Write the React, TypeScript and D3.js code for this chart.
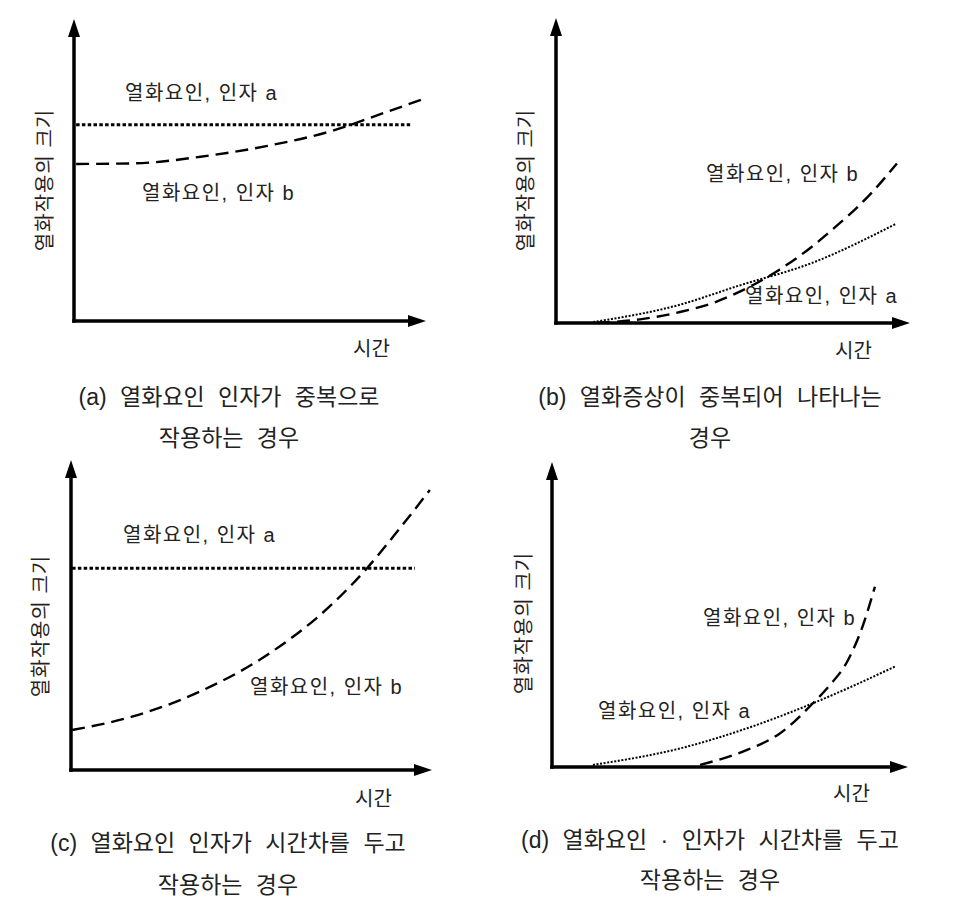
import React from "react";
import * as d3 from "d3";

// ---------- data (time, magnitude on 0..100 scales) ----------
const panelKeys = ["a", "b", "c", "d"];

const aTimeA = [0.6, 95.5];
const aValA = [65, 65];
const aTimeB = [0.6, 17, 36, 55, 74, 88, 100];
const aValB = [52, 52.2, 54.4, 58, 63.2, 68.9, 73.8];

const bTimeA = [10.5, 35, 51, 73, 96];
const bValA = [0.3, 6, 12, 20, 32.5];
const bTimeB = [11.6, 23.7, 35, 44.4, 51, 57, 63, 68, 72.6, 77, 82.2, 89, 96.3];
const bValB = [0, 1.2, 3.6, 6.6, 9.8, 13.3, 17.4, 21.3, 25.3, 29.6, 34.8, 42.5, 52.3];

const cTimeA = [0.3, 95.3];
const cValA = [65.1, 65.1];
const cTimeB = [0.3, 16.9, 35.7, 54.3, 72.6, 82, 91.1, 99.4];
const cValB = [12.9, 17.2, 25.3, 37.1, 53.8, 65.1, 78, 90.3];

const dTimeA = [11.5, 36, 54.8, 73.3, 96.3];
const dValA = [0.7, 6.1, 12.7, 20.9, 32.9];
const dTimeB = [41.6, 54.8, 64, 73.3, 78.1, 82.9, 87.4, 90.7];
const dValB = [0.7, 5.6, 11, 20.9, 26.9, 34.5, 46.6, 59.1];

const seriesLabels = ["열화요인, 인자 a", "열화요인, 인자 b"];
const yAxisLabel = "열화작용의 크기";
const xAxisLabel = "시간";
const captionLine1 = [
  "(a) 열화요인 인자가 중복으로",
  "(b) 열화증상이 중복되어 나타나는",
  "(c) 열화요인 인자가 시간차를 두고",
  "(d) 열화요인 · 인자가 시간차를 두고",
];
const captionLine2 = ["작용하는 경우", "경우", "작용하는 경우", "작용하는 경우"];

// ---------- layout ----------
const layout: Record<string, any> = {
  a: {
    x0: 74, x1: 426, y0: 321, y1: 19,
    la: [125, 100], lb: [142, 200], xl: [353, 356], yl: [45, 180],
    cap: [229, 405, 446], dotThick: true,
  },
  b: {
    x0: 556, x1: 910, y0: 323, y1: 18,
    la: [745, 303], lb: [706, 181], xl: [835, 358], yl: [526, 180],
    cap: [710, 405, 446], dotThick: false,
  },
  c: {
    x0: 71, x1: 432, y0: 770, y1: 460,
    la: [123, 542], lb: [250, 694], xl: [355, 806], yl: [41, 626],
    cap: [228, 851, 893], dotThick: true,
  },
  d: {
    x0: 552, x1: 908, y0: 767, y1: 462,
    la: [598, 718], lb: [703, 625], xl: [833, 801], yl: [524, 623],
    cap: [710, 848, 888], dotThick: false,
  },
};

const seriesData: Record<string, number[][]> = {
  a: [aTimeA, aValA, aTimeB, aValB],
  b: [bTimeA, bValA, bTimeB, bValB],
  c: [cTimeA, cValA, cTimeB, cValB],
  d: [dTimeA, dValA, dTimeB, dValB],
};

const FONT = "'Liberation Sans', 'Noto Sans CJK KR', sans-serif";
const TEXT = "#222";

function Panel({ k, i }: { k: string; i: number }) {
  const L = layout[k];
  const x = d3.scaleLinear().domain([0, 100]).range([L.x0, L.x1]);
  const y = d3.scaleLinear().domain([0, 100]).range([L.y0, L.y1]);
  const [tA, vA, tB, vB] = seriesData[k];
  const line = d3
    .line<[number, number]>()
    .x((d) => x(d[0]))
    .y((d) => y(d[1]))
    .curve(d3.curveMonotoneX);
  const ptsA = tA.map((t, j) => [t, vA[j]] as [number, number]);
  const ptsB = tB.map((t, j) => [t, vB[j]] as [number, number]);
  const aw = 6;
  const al = 18;
  const sw = 3.5;
  return (
    <g>
      {/* series a : dotted */}
      <path
        d={line(ptsA) || ""}
        fill="none"
        stroke="#000"
        strokeWidth={L.dotThick ? 3 : 2}
        strokeDasharray={L.dotThick ? "3.5 2.3" : "2 1.6"}
      />
      {/* series b : dashed */}
      <path
        d={line(ptsB) || ""}
        fill="none"
        stroke="#000"
        strokeWidth={2.4}
        strokeDasharray="13 7"
      />
      {/* axes */}
      <line x1={L.x0} y1={L.y0 + sw / 2} x2={L.x0} y2={L.y1 + al - 1} stroke="#000" strokeWidth={sw} />
      <line x1={L.x0 - sw / 2} y1={L.y0} x2={L.x1 - al + 1} y2={L.y0} stroke="#000" strokeWidth={sw} />
      <path d={`M${L.x0},${L.y1} L${L.x0 - aw},${L.y1 + al} L${L.x0 + aw},${L.y1 + al} Z`} fill="#000" />
      <path d={`M${L.x1},${L.y0} L${L.x1 - al},${L.y0 - aw} L${L.x1 - al},${L.y0 + aw} Z`} fill="#000" />
      {/* labels */}
      <g fontFamily={FONT} fill={TEXT} fontSize={20}>
        <text x={L.la[0]} y={L.la[1]} letterSpacing={1.5}>{seriesLabels[0]}</text>
        <text x={L.lb[0]} y={L.lb[1]} letterSpacing={1.5}>{seriesLabels[1]}</text>
        <text x={L.xl[0]} y={L.xl[1]}>{xAxisLabel}</text>
        <text
          transform={`translate(${L.yl[0]},${L.yl[1]}) rotate(-90)`}
          textAnchor="middle"
          dominantBaseline="central"
          fill="#2b1e1e"
          letterSpacing={1}
        >
          {yAxisLabel}
        </text>
      </g>
      <g fontFamily={FONT} fill={TEXT} fontSize={23} textAnchor="middle" wordSpacing={7}>
        <text x={L.cap[0]} y={L.cap[1]}>{captionLine1[i]}</text>
        <text x={L.cap[0]} y={L.cap[2]}>{captionLine2[i]}</text>
      </g>
    </g>
  );
}

export default function App() {
  return (
    <svg
      width={962}
      height={913}
      style={{ position: "absolute", left: 0, top: 0, background: "#fff" }}
    >
      <rect width={962} height={913} fill="#fff" />
      {panelKeys.map((k, i) => (
        <Panel key={k} k={k} i={i} />
      ))}
    </svg>
  );
}
